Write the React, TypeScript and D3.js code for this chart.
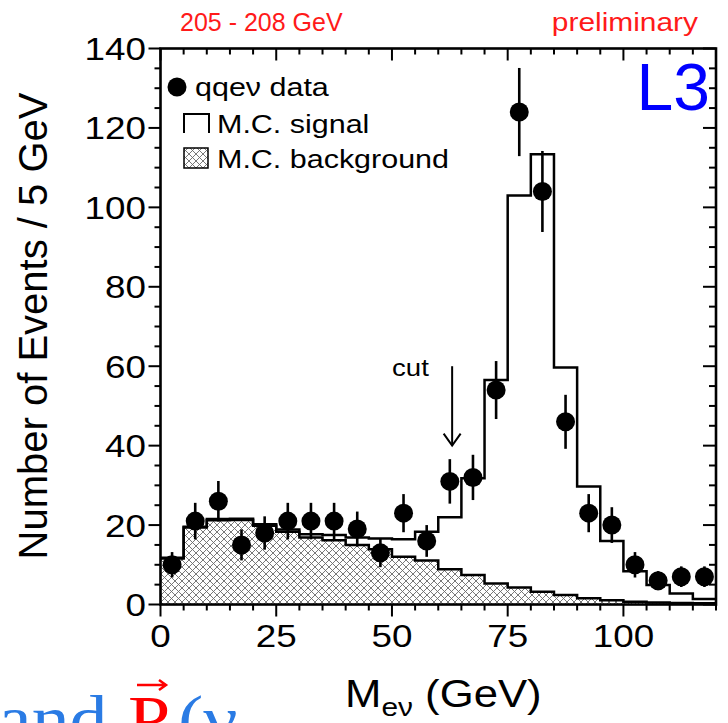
import React from "react";
import * as d3 from "d3";

// bin lower edges (GeV), 5 GeV wide
const binStarts = [0, 5, 10, 15, 20, 25, 30, 35, 40, 45, 50, 55, 60, 65, 70, 75, 80, 85, 90, 95, 100, 105, 110, 115];
const dataCounts = [10, 21, 26, 15, 18, 21, 21, 21, 19, 13, 23, 16, 31, 32, 54, 124, 104, 46, 23, 20, 10, 6, 7, 7];
const dataErrors = [3.2, 4.6, 5.1, 3.9, 4.2, 4.6, 4.6, 4.6, 4.4, 3.6, 4.8, 4.0, 5.6, 5.7, 7.3, 11.1, 10.2, 6.8, 4.8, 4.5, 3.2, 2.4, 2.6, 2.6];
const mcSignal = [11.8, 19.6, 21.5, 21.6, 20.2, 18.9, 17.7, 17.5, 16.9, 16.6, 16.4, 18.3, 22.0, 31.8, 56.5, 103, 113.4, 59.7, 29.7, 16, 8.4, 4.9, 2.8, 1.4];
const mcBackground = [11.6, 19.4, 21.2, 21.3, 19.8, 18.3, 16.9, 16.2, 15.0, 13.9, 12.0, 11.1, 8.9, 7.4, 5.3, 4.3, 3.2, 2.4, 1.6, 1.1, 0.7, 0.5, 0.4, 0.3];

const xMajor = [0, 25, 50, 75, 100];
const yMajor = [0, 20, 40, 60, 80, 100, 120, 140];
const binWidth = 5;
const cutPos = 63;

const FONT = "'Liberation Sans', Arial, Helvetica, sans-serif";
const SERIF = "'Liberation Serif', 'DejaVu Serif', serif";
const SX = 1.15; // the original lettering is a bit wider than Liberation Sans

// horizontally stretched text helper
function T({ x, y, size, anchor = "start", fill = "#000", family = FONT, children }: any) {
  return (
    <text
      transform={`translate(${x},${y}) scale(${SX},1)`}
      fontFamily={family}
      fontSize={size}
      textAnchor={anchor}
      fill={fill}
    >
      {children}
    </text>
  );
}

export default function App() {
  const W = 728, H = 723;
  const x = d3.scaleLinear().domain([0, 120]).range([160.5, 716]);
  const y = d3.scaleLinear().domain([0, 140]).range([604.5, 48.5]);

  const stepPts = (vals: number[]) => {
    const pts = binStarts.map((b, i) => [b, vals[i]] as [number, number]);
    pts.push([binStarts[binStarts.length - 1] + binWidth, vals[vals.length - 1]]);
    return pts;
  };

  const line = d3.line<[number, number]>()
    .x((d) => x(d[0]))
    .y((d) => y(d[1]))
    .curve(d3.curveStepAfter);
  const area = d3.area<[number, number]>()
    .x((d) => x(d[0]))
    .y0(y(0))
    .y1((d) => y(d[1]))
    .curve(d3.curveStepAfter);

  const bgPts = stepPts(mcBackground);
  const sigPts = stepPts(mcSignal);

  const xMinor = d3.range(0, 121, 5).filter((v) => v % 25 !== 0);
  const yMinor = d3.range(0, 141, 5).filter((v) => v % 20 !== 0);

  const [x0, x1] = x.range();
  const [y0, y1] = y.range();
  const cx = x(cutPos);

  return (
    <svg width={W} height={H} style={{ position: "absolute", left: 0, top: 0, background: "#fff" }}>
      <defs>
        <pattern id="hatch" width="7" height="7" patternUnits="userSpaceOnUse">
          <path d="M0,0 L7,7 M7,0 L0,7" stroke="#6a6a6a" strokeWidth="0.9" />
        </pattern>
      </defs>

      {/* top labels */}
      <text x={180} y={31} fill="#ff1a1a" fontFamily={FONT} fontSize={25}>205 - 208 GeV</text>
      <T x={698} y={31} size={26} anchor="end" fill="#ff1a1a">preliminary</T>

      {/* background MC */}
      <path d={area(bgPts) || ""} fill="url(#hatch)" />
      <path d={line(bgPts) || ""} fill="none" stroke="#000" strokeWidth={2.5} />
      {/* signal MC */}
      <path d={line(sigPts) || ""} fill="none" stroke="#000" strokeWidth={2.5} />

      {/* data */}
      {dataCounts.map((v, i) => {
        const px = x(binStarts[i] + binWidth / 2);
        return (
          <g key={i}>
            <line x1={px} x2={px} y1={y(v - dataErrors[i])} y2={y(v + dataErrors[i])} stroke="#000" strokeWidth={2.6} />
            <circle cx={px} cy={y(v)} r={9.5} fill="#000" />
          </g>
        );
      })}

      {/* cut arrow */}
      <line x1={cx} x2={cx} y1={y(60)} y2={y(40)} stroke="#000" strokeWidth={2} />
      <path d={`M${cx - 8.5},${y(40) - 12} L${cx},${y(40)} L${cx + 8.5},${y(40) - 12}`} fill="none" stroke="#000" strokeWidth={2} />
      <T x={392} y={376} size={24}>cut</T>

      {/* frame */}
      <rect x={x0} y={y1} width={x1 - x0} height={y0 - y1} fill="none" stroke="#000" strokeWidth={2.6} />

      {/* x ticks */}
      {xMajor.map((v) => (
        <g key={"xm" + v}>
          <line x1={x(v)} x2={x(v)} y1={y0} y2={y0 + 12} stroke="#000" strokeWidth={2} />
          <line x1={x(v)} x2={x(v)} y1={y1} y2={y1 + 12} stroke="#000" strokeWidth={2} />
          <T x={x(v)} y={647} size={32} anchor="middle">{v}</T>
        </g>
      ))}
      {xMinor.map((v) => (
        <g key={"xn" + v}>
          <line x1={x(v)} x2={x(v)} y1={y0} y2={y0 + 6} stroke="#000" strokeWidth={2} />
          <line x1={x(v)} x2={x(v)} y1={y1} y2={y1 + 6} stroke="#000" strokeWidth={2} />
        </g>
      ))}

      {/* y ticks */}
      {yMajor.map((v) => (
        <g key={"ym" + v}>
          <line x1={x0 - 12} x2={x0} y1={y(v)} y2={y(v)} stroke="#000" strokeWidth={2} />
          <line x1={x1 - 13} x2={x1} y1={y(v)} y2={y(v)} stroke="#000" strokeWidth={2} />
          <T x={146} y={y(v) + 11.5} size={32} anchor="end">{v}</T>
        </g>
      ))}
      {yMinor.map((v) => (
        <g key={"yn" + v}>
          <line x1={x0 - 6} x2={x0} y1={y(v)} y2={y(v)} stroke="#000" strokeWidth={2} />
          <line x1={x1 - 7} x2={x1} y1={y(v)} y2={y(v)} stroke="#000" strokeWidth={2} />
        </g>
      ))}

      {/* axis titles */}
      <text transform={`translate(47,${326}) rotate(-90)`} textAnchor="middle" fontFamily={FONT} fontSize={40}>Number of Events / 5 GeV</text>
      <T x={345} y={707} size={38}>
        M<tspan fontSize={26} dy={9}>eν</tspan><tspan dy={-9}> (GeV)</tspan>
      </T>

      {/* L3 logo */}
      <text x={710} y={110} textAnchor="end" fill="#0000ff" fontFamily={FONT} fontSize={66}>L3</text>

      {/* legend */}
      <circle cx={177} cy={87} r={9.5} fill="#000" />
      <T x={195} y={96} size={26.5}>qqeν data</T>
      <path d="M184,133 L184,114 L209,114 L209,133" fill="none" stroke="#000" strokeWidth={2} />
      <T x={217} y={133} size={26.5}>M.C. signal</T>
      <rect x={184} y={148} width={24} height={20} fill="url(#hatch)" stroke="#000" strokeWidth={1.5} />
      <T x={217} y={168} size={26.5}>M.C. background</T>

      {/* clipped caption fragment at bottom left */}
      <T x={-2} y={741} size={66} family={SERIF} fill="#2a7be4">and</T>
      <T x={128} y={741} size={66} family={SERIF} fill="#ff0000">P</T>
      <T x={178} y={741} size={66} family={SERIF} fill="#2a7be4">(ν</T>
      <path d="M137,685 L166,685 M159,680 L166,685 L159,690" fill="none" stroke="#ff0000" strokeWidth={2.5} />
    </svg>
  );
}
